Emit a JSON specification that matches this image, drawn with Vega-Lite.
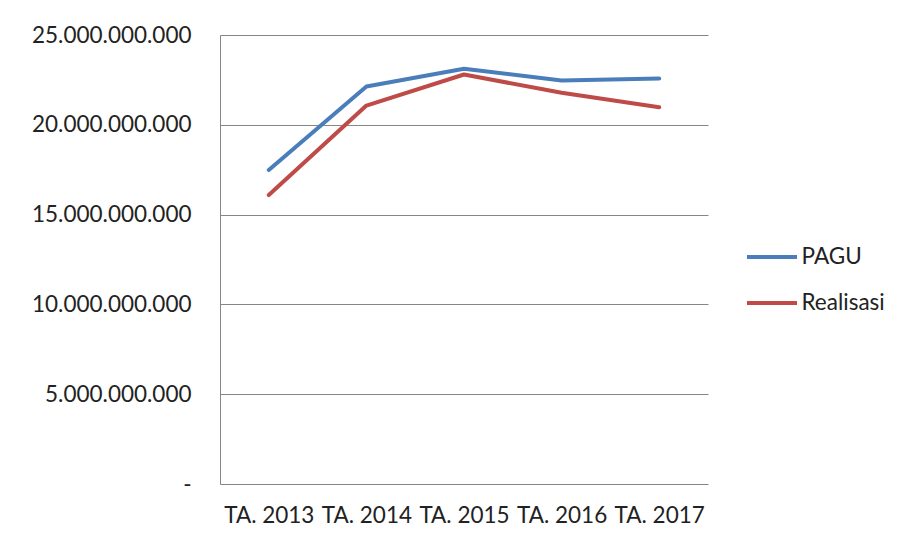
{
  "$schema": "https://vega.github.io/schema/vega-lite/v6.json",
  "autosize": {"type": "none"},
  "width": 488,
  "height": 449,
  "padding": {"left": 220, "top": 35, "right": 191, "bottom": 62},
  "background": "white",
  "data": {
    "values": [
      {"tahun": "TA. 2013", "seri": "PAGU", "nilai": 17480000000},
      {"tahun": "TA. 2014", "seri": "PAGU", "nilai": 22130000000},
      {"tahun": "TA. 2015", "seri": "PAGU", "nilai": 23120000000},
      {"tahun": "TA. 2016", "seri": "PAGU", "nilai": 22470000000},
      {"tahun": "TA. 2017", "seri": "PAGU", "nilai": 22580000000},
      {"tahun": "TA. 2013", "seri": "Realisasi", "nilai": 16090000000},
      {"tahun": "TA. 2014", "seri": "Realisasi", "nilai": 21070000000},
      {"tahun": "TA. 2015", "seri": "Realisasi", "nilai": 22800000000},
      {"tahun": "TA. 2016", "seri": "Realisasi", "nilai": 21780000000},
      {"tahun": "TA. 2017", "seri": "Realisasi", "nilai": 20980000000}
    ]
  },
  "mark": {"type": "line", "strokeWidth": 4, "strokeCap": "round", "strokeJoin": "round"},
  "encoding": {
    "x": {
      "field": "tahun",
      "type": "ordinal",
      "scale": {"type": "point", "padding": 0.5},
      "axis": {
        "title": null,
        "labelAngle": 0,
        "ticks": false,
        "domain": false,
        "grid": false,
        "labelFont": "Lato",
        "labelFontSize": 22.5,
        "labelColor": "#222222",
        "labelPadding": 20
      }
    },
    "y": {
      "field": "nilai",
      "type": "quantitative",
      "scale": {"domain": [0, 25000000000], "nice": false},
      "axis": {
        "title": null,
        "values": [0, 5000000000, 10000000000, 15000000000, 20000000000, 25000000000],
        "labelExpr": "datum.value == 0 ? '-' : replace(format(datum.value, ','), regexp(',', 'g'), '.')",
        "ticks": false,
        "domain": true,
        "domainColor": "#868686",
        "domainWidth": 1,
        "grid": true,
        "gridColor": "#868686",
        "gridWidth": 1,
        "labelFont": "Lato",
        "labelFontSize": 22.5,
        "labelColor": "#222222",
        "labelPadding": 29
      }
    },
    "color": {
      "field": "seri",
      "type": "nominal",
      "scale": {"domain": ["PAGU", "Realisasi"], "range": ["#4A7EBB", "#BE4B48"]},
      "legend": {
        "title": null,
        "orient": "none",
        "legendX": 537.5,
        "legendY": 207.5,
        "padding": 0,
        "symbolType": "M-2,0H2",
        "symbolSize": 625,
        "symbolStrokeWidth": 4,
        "labelOffset": 15,
        "rowPadding": 20,
        "labelFont": "Lato",
        "labelFontSize": 22.5,
        "labelColor": "#222222"
      }
    }
  },
  "config": {"view": {"stroke": null}}
}
